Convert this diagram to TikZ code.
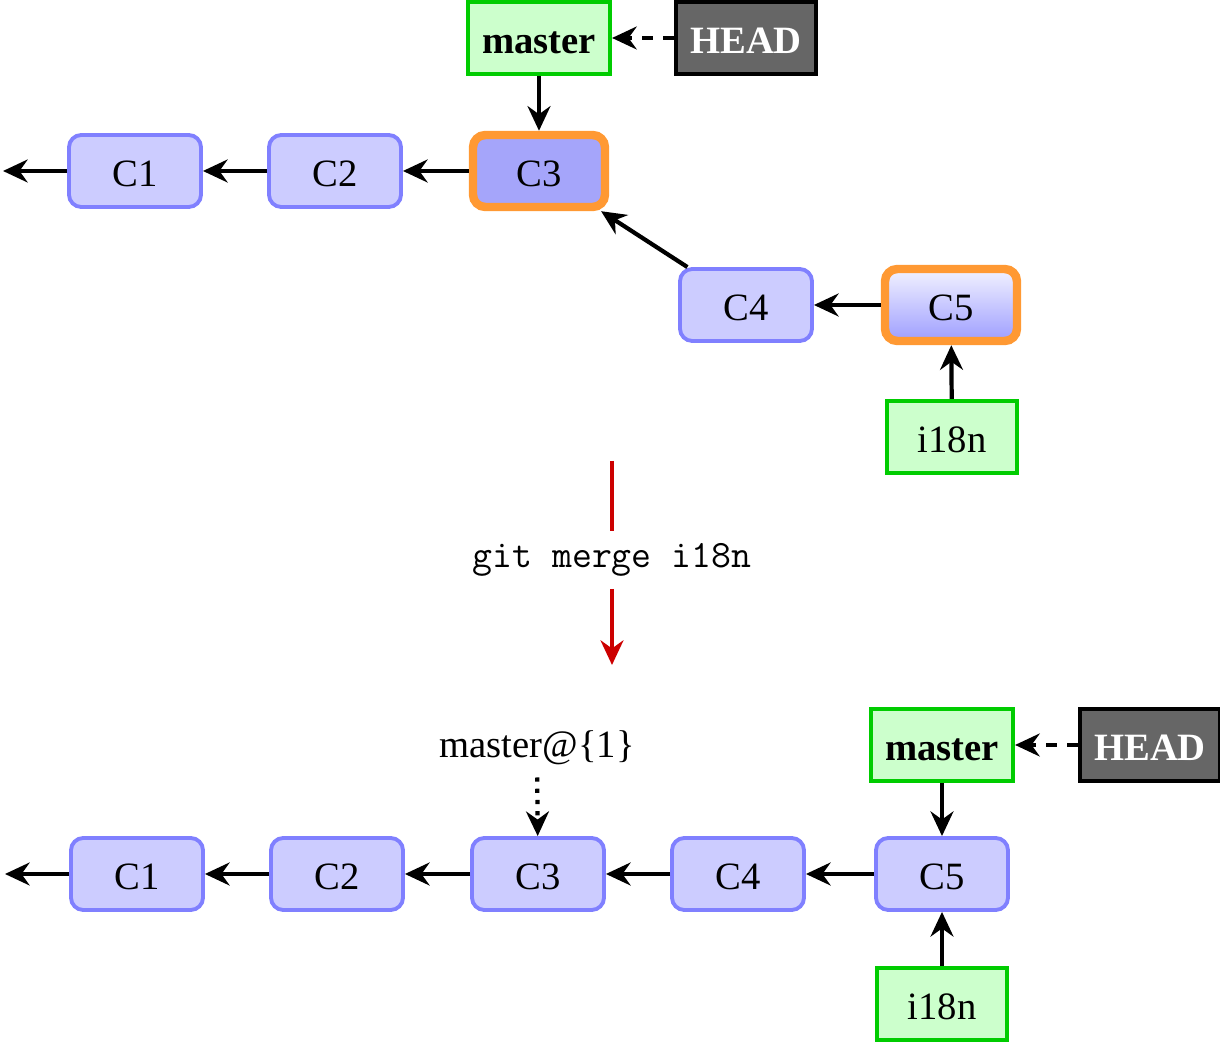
\documentclass[tikz,border=0pt]{standalone}
\usepackage{fontspec}
\setmainfont{Liberation Serif}
\usetikzlibrary{arrows.meta,positioning}
\definecolor{gitcommit}{RGB}{204,204,255}
\definecolor{gitedge}{RGB}{128,128,255}
\definecolor{gitcur}{RGB}{165,165,250}
\definecolor{gitbranch}{RGB}{204,255,204}
\definecolor{gitgreen}{RGB}{0,204,0}
\definecolor{gitorange}{RGB}{255,153,51}
\definecolor{gitred}{RGB}{204,0,0}
\definecolor{githead}{RGB}{102,102,102}

\begin{document}
\begin{tikzpicture}[font=\fontsize{11}{13}\selectfont,
  box/.style={text height=9pt,text depth=0pt,minimum height=0.72cm},
  commit/.style={box,draw=gitedge,fill=gitcommit,line width=1.1pt,rounded corners=3.5pt,minimum width=1.32cm},
  tip/.style={draw=gitorange,line width=2.4pt},
  branch/.style={box,draw=gitgreen,fill=gitbranch,line width=1.2pt,minimum width=1.3cm,inner xsep=4pt},
  headref/.style={box,draw=black,fill=githead,text=white,font=\fontsize{11}{13}\selectfont\bfseries,line width=1.2pt,minimum width=1.3cm,inner xsep=4pt},
  link/.style={-{Stealth[length=7pt,width=6.5pt,inset=2.3pt]},line width=1.2pt}]
\useasboundingbox (0,0) rectangle (12.2,-10.43);
\node[commit] (c1) at (1.35,-1.71) {C1};
\node[commit] (c2) at (3.35,-1.71) {C2};
\node[commit,tip,fill=gitcur] (c3) at (5.39,-1.71) {C3};
\node[commit] (c4) at (7.46,-3.05) {C4};
\node[commit,tip,top color=blue!5,bottom color=blue!38] (c5) at (9.51,-3.05) {C5};
\node[branch,font=\fontsize{11}{13}\selectfont\bfseries] (master) at (5.39,-0.38) {master};
\node[headref] (head) at (7.46,-0.38) {HEAD};
\node[branch] (i18n) at (9.52,-4.37) {i18n};
\coordinate (c0) at (0.03,-1.71);
\draw[link] (c1) -- (c0);
\draw[link] (c2) -- (c1);
\draw[link] (c3) -- (c2);
\draw[link] (c4) -- (c3);
\draw[link] (c5) -- (c4);
\draw[link] (master) -- (c3);
\draw[link,dashed] (head) -- (master);
\draw[link] (i18n) -- (c5);

\coordinate (mtop) at (6.12,-4.61);
\node[font=\fontsize{11}{13}\selectfont\ttfamily] (cmd) at (6.12,-5.60) {git merge i18n};
\coordinate (mbot) at (6.12,-6.65);
\draw[gitred,line width=1.2pt] (mtop) -- (cmd);
\draw[gitred,link] (cmd) -- (mbot);

\foreach \i/\x in {1/1.37,2/3.37,3/5.38,4/7.38,5/9.42} {\node[commit] (n\i) at (\x,-8.74) {C\i};}
\coordinate (n0) at (0.05,-8.74);
\foreach \i/\j in {1/0,2/1,3/2,4/3,5/4} {\draw[link] (n\i) -- (n\j);}
\node[branch,font=\fontsize{11}{13}\selectfont\bfseries] (newmaster) at (9.42,-7.45) {master};
\node[headref] (newhead) at (11.50,-7.45) {HEAD};
\node[branch] (newi18n) at (9.42,-10.04) {i18n};
\node (old) at (5.37,-7.48) {master@\{1\}};
\draw[link] (newmaster) -- (n5);
\draw[link,dashed] (newhead) -- (newmaster);
\draw[link] (newi18n) -- (n5);
\draw[link,dotted] (old) -- (n3);
\end{tikzpicture}
\end{document}
